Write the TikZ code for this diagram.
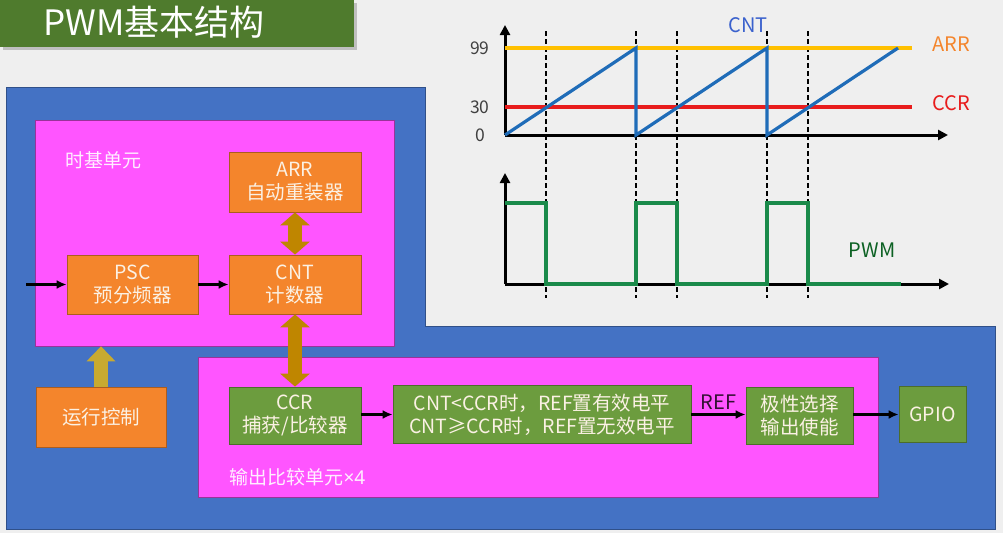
\documentclass[tikz,border=0pt]{standalone}
\usepackage{fontspec}
\setmainfont{Noto Sans CJK SC}
\newfontfamily\latinsans{Noto Sans}
\usepackage{xcolor}
\usetikzlibrary{arrows.meta}
\usetikzlibrary{math}

\definecolor{pagegray}{HTML}{EFEFEF}
\definecolor{titlegreen}{HTML}{4F7B2D}
\definecolor{chipblue}{HTML}{4472C4}
\definecolor{unitpink}{HTML}{FF55FF}
\definecolor{regorange}{HTML}{F4852C}
\definecolor{reggreen}{HTML}{6C9C3E}
\definecolor{busgold}{HTML}{BF8600}
\definecolor{ctrlgold}{HTML}{C8AA30}
\definecolor{arrline}{HTML}{FFC000}
\definecolor{ccrline}{HTML}{E81C1C}
\definecolor{cntline}{HTML}{1F6CB8}
\definecolor{pwmline}{HTML}{1A8A4A}
\definecolor{boxtext}{HTML}{FBF1E4}

\begin{document}
\begin{tikzpicture}[x=1pt,y=-1pt,
  sz/.style 2 args={minimum width=#1pt, minimum height=#2pt, inner sep=0pt},
  reg/.style={fill=regorange, draw=regorange!70!black, line width=0.8pt, text=boxtext,
    align=center, font=\fontsize{19.5}{23}\selectfont},
  cmpbox/.style={reg, fill=reggreen, draw=reggreen!70!black},
  unit/.style={fill=unitpink, draw=unitpink!60!black, line width=0.6pt},
  unitname/.style={anchor=west, text=white!90!unitpink, font=\fontsize{19}{21}\selectfont},
  link/.style={-{Latex[length=10pt,width=9pt]}, line width=2.2pt},
  bus/.style={draw=busgold, line width=14pt,
    {Triangle[width=29pt,length=13pt]}-{Triangle[width=29pt,length=13pt]}},
  ctrl/.style={draw=ctrlgold, line width=14pt, -{Triangle[width=28pt,length=15pt]}},
  axis/.style={line width=3pt, -{Triangle[width=10pt,length=10pt]}},
  wave/.style={line width=3.2pt, line join=miter},
  tick/.style={text=black!75, font=\fontsize{17.5}{17.5}\selectfont},
  sig/.style={font=\fontsize{20}{20}\selectfont}]

\useasboundingbox[fill=pagegray] (0,0) rectangle (1003,533);

% title
\fill[black!25] (3,3) rectangle (357,50);
\fill[titlegreen] (0,0) rectangle (354,47);
\node[anchor=west, text=white, font=\fontsize{35}{35}\selectfont] (title) at (40,22) {PWM基本结构};

% chip
\filldraw[fill=chipblue, draw=chipblue!70!black, line width=0.6pt]
  (6,87) -- (425,87) -- (425,326) -- (995,326) -- (995,529) -- (6,529) -- cycle;

\node[unit, sz={359}{226}] (tb) at (214.5,233) {};
\node[unit, sz={680}{140}] (oc) at (538,427) {};
\node[unitname] (tbname) at (62,160) {时基单元};
\node[unitname] (ocname) at (226,477) {输出比较单元{\latinsans ×4}};

\node[reg, sz={132}{60}] (arr) at (295,182) {ARR\\自动重装器};
\node[reg, sz={131}{59}] (psc) at (132.5,284.5) {PSC\\预分频器};
\node[reg, sz={132}{59}] (cnt) at (295,284.5) {CNT\\计数器};
\node[reg, sz={130}{60}] (run) at (101,417) {运行控制};

\node[cmpbox, sz={132}{57}] (ccr) at (295,415.5) {CCR\\捕获/比较器};
\node[cmpbox, sz={298}{58}] (cmp) at (542,414.5) {CNT<CCR时，REF置有效电平\\CNT≥CCR时，REF置无效电平};
\node[cmpbox, sz={107}{57}] (pol) at (799.5,415.5) {极性选择\\输出使能};
\node[cmpbox, sz={67}{56}] (gpio) at (932.5,414.5) {GPIO};

\coordinate (clk) at (26,284.5);
\draw[link] (clk) -- (psc.west);
\draw[link] (psc) -- (cnt);
\draw[link] (ccr.east |- cmp.west) -- (cmp.west);
\draw[link] (cmp.east) -- (cmp.east -| pol.west) node[midway, above=1pt, text=black!80!unitpink, sig] (ref) {REF};
\draw[link] (pol.east |- gpio.west) -- (gpio.west);

\draw[bus] (arr.south) -- (cnt.north);
\draw[bus] (cnt.south) -- (ccr.north);
\draw[ctrl] (run.north) -- (run.north |- tb.south);

% timing
\tikzmath{
\xo=505; \yo=135; \ya=48; \yc=107;
\yp=284; \yh=203;
}
\foreach \xd in {546,636,677,767,808}{
\draw[dashed, dash pattern=on 5pt off 3pt, line width=1.5pt] (\xd,31) -- (\xd,298);
}

\coordinate (o1) at (\xo,\yo);
\coordinate (o2) at (\xo,\yp);
\draw[axis] (o1) -- (\xo,25);
\draw[axis] (o1) -- (948,\yo);
\draw[axis] (o2) -- (\xo,173);
\draw[axis] (o2) -- (949,\yp);

\draw[wave, arrline] (\xo,\ya) -- (912,\ya);
\draw[wave, ccrline] (\xo,\yc) -- (912,\yc);
\draw[wave, cntline] (o1) -- (636,\ya) -- (636,\yo) -- (767,\ya) -- (767,\yo) -- (898,\ya);

\draw[wave, pwmline] (\xo,\yh) -- (546,\yh) -- (546,\yp) -- (636,\yp) -- (636,\yh) -- (677,\yh)
  -- (677,\yp) -- (767,\yp) -- (767,\yh) -- (808,\yh) -- (808,\yp) -- (901,\yp);

\node[tick, anchor=east] (t99) at (493,\ya) {99};
\node[tick, anchor=east] (t30) at (493,\yc) {30};
\node[tick, anchor=east] (t0) at (489,\yo) {0};

\node[sig, anchor=west, text=regorange] (arrlab) at (929,44) {ARR};
\node[sig, anchor=west, text=ccrline] (ccrlab) at (929,103) {CCR};
\node[sig, text=chipblue!85!blue] (cntlab) at (748,25) {CNT};
\node[sig, text=pwmline!80!green!60!black] (pwmlab) at (872,250) {PWM};

\end{tikzpicture}
\end{document}
